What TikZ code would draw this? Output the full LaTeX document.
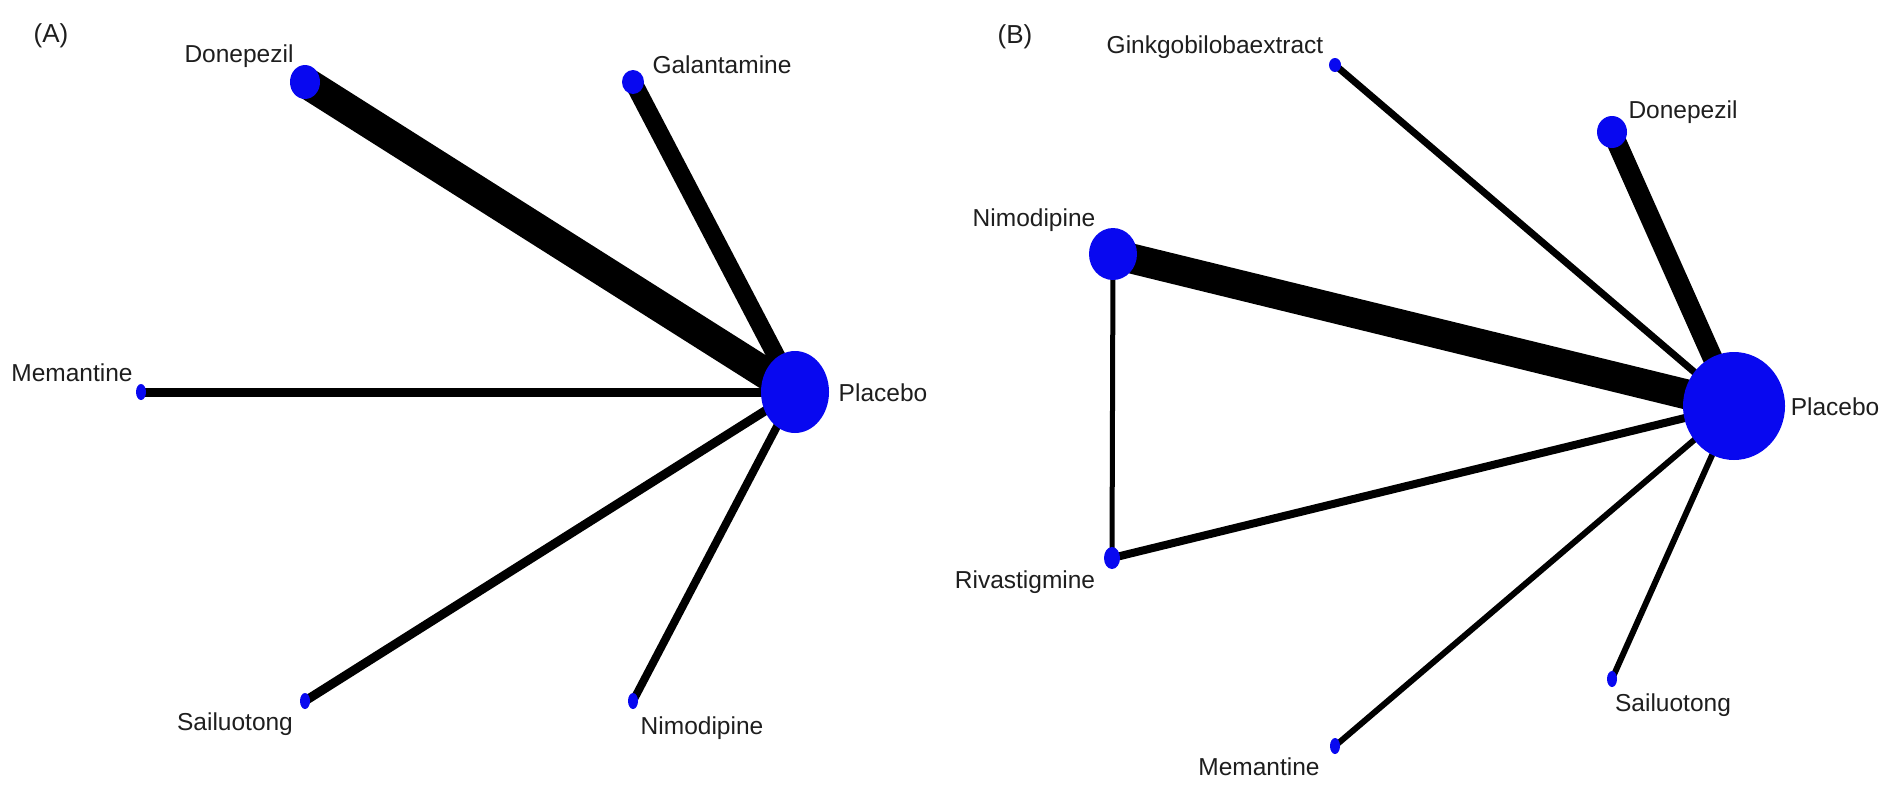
\documentclass[tikz,border=0pt]{standalone}
\usepackage{fontspec}
\setmainfont{Liberation Sans}
\usetikzlibrary{shapes.geometric,backgrounds}
\definecolor{nodeblue}{RGB}{8,8,240}
\definecolor{txt}{RGB}{30,30,30}
\tikzset{
  trt/.style={ellipse, fill=nodeblue, draw=none, inner sep=0pt},
  lbl/.style={text=txt, inner sep=0pt, font=\fontsize{24.5}{29}\selectfont},
  panel/.style={text=txt, inner sep=0pt, font=\fontsize{26}{30}\selectfont},
  link/.style={draw=black, line width=#1, line cap=butt}
}
\newcommand{\trtnode}[5]{\node[trt, minimum width=#4pt, minimum height=#5pt] (#1) at (#2,#3) {};}
\begin{document}
\begin{tikzpicture}[x=1pt,y=-1pt]
\useasboundingbox (0,0) rectangle (1889,785);
% ---------------- Panel A ----------------
\trtnode{aP}{795}{392}{68}{82}
\trtnode{aD}{305}{82}{30}{34}
\trtnode{aG}{633}{82}{22}{24}
\trtnode{aM}{141}{392}{10}{16}
\trtnode{aS}{305}{701}{10}{16}
\trtnode{aN}{633}{701}{10}{16}
% ---------------- Panel B ----------------
\trtnode{bP}{1734}{406}{102}{108}
\trtnode{bD}{1612}{132}{30}{32}
\trtnode{bG}{1335}{65}{12}{14}
\trtnode{bN}{1113}{254}{48}{52}
\trtnode{bR}{1112}{558}{16}{22}
\trtnode{bS}{1612}{679}{10}{16}
\trtnode{bM}{1335}{746}{10}{16}
\begin{scope}[on background layer]
\fill[white] (0,0) rectangle (1889,785);
% edges A
\draw[link=31] (aD.center) -- (aP.center);
\draw[link=18] (aG.center) -- (aP.center);
\draw[link=9] (aM.center) -- (aP.center);
\draw[link=9] (aS.center) -- (aP.center);
\draw[link=8] (aN.center) -- (aP.center);
% edges B
\draw[link=30] (bN.center) -- (bP.center);
\draw[link=20] (bD.center) -- (bP.center);
\draw[link=7] (bG.center) -- (bP.center);
\draw[link=5] (bN.center) -- (bR.center);
\draw[link=8] (bR.center) -- (bP.center);
\draw[link=6] (bM.center) -- (bP.center);
\draw[link=6] (bS.center) -- (bP.center);
\end{scope}
% labels A
\node[panel] (labA) at (51,36) {(A)};
\node[lbl] (laD) at (239,56) {Donepezil};
\node[lbl] (laG) at (722,65) {Galantamine};
\node[lbl] (laM) at (72,373) {Memantine};
\node[lbl] (laP) at (883,393) {Placebo};
\node[lbl] (laS) at (235,724) {Sailuotong};
\node[lbl] (laN) at (702,728) {Nimodipine};
% labels B
\node[panel] (labB) at (1015,37) {(B)};
\node[lbl] (lbG) at (1215,47) {Ginkgobilobaextract};
\node[lbl] (lbD) at (1683,112) {Donepezil};
\node[lbl] (lbN) at (1034,220) {Nimodipine};
\node[lbl] (lbR) at (1025,582) {Rivastigmine};
\node[lbl] (lbP) at (1835,407) {Placebo};
\node[lbl] (lbS) at (1673,705) {Sailuotong};
\node[lbl] (lbM) at (1259,767) {Memantine};
\end{tikzpicture}
\end{document}
